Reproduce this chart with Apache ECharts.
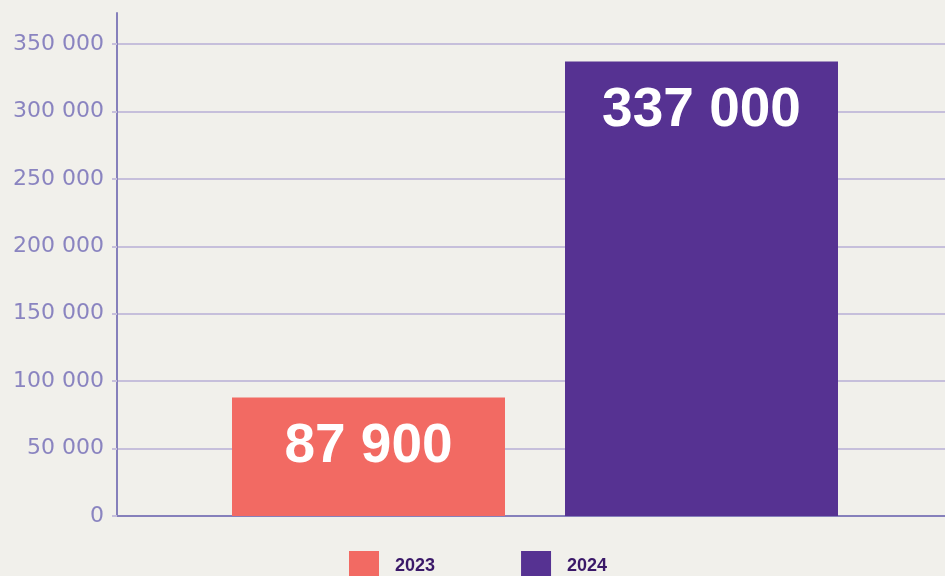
<!DOCTYPE html>
<html>
<head>
<meta charset="utf-8">
<script src="https://cdn.jsdelivr.net/npm/echarts@6/dist/echarts.min.js"></script>
<style>
  html, body { margin: 0; padding: 0; background: #f1f0eb; }
  #chart { width: 945px; height: 576px; }
</style>
</head>
<body>
<div id="chart"></div>
<script>
// Annual totals
const years = ['2023', '2024'];
const values2023 = [87900, '-'];
const values2024 = ['-', 337000];
const yMin = 0;
const yMax = 350000;
const yStep = 50000;

const COLORS = {
  bg: '#f1f0eb',
  coral: '#f26a63',
  purple: '#563292',
  axis: '#8680bb',
  grid: '#c6bfdb',
  label: '#8a84c0',
  legendText: '#3a1868'
};

const BOLD_FONT = '"Liberation Sans", Arial, sans-serif';

// "337000" -> "337 000"
function spaced(v) {
  return String(Math.round(v)).replace(/\B(?=(\d{3})+(?!\d))/g, ' ');
}

const chart = echarts.init(document.getElementById('chart'), null, { renderer: 'canvas' });

const barLabel = {
  show: true,
  position: 'insideTop',
  distance: 22,
  color: '#ffffff',
  fontFamily: BOLD_FONT,
  fontWeight: 'bold',
  fontSize: 55,
  formatter: p => spaced(p.value)
};

chart.setOption({
  backgroundColor: COLORS.bg,
  animation: false,
  legend: {
    data: years,
    left: 349,
    top: 551,
    padding: 0,
    icon: 'rect',
    itemWidth: 30,
    itemHeight: 30,
    itemGap: 86,
    textStyle: {
      color: COLORS.legendText,
      fontFamily: BOLD_FONT,
      fontWeight: 'bold',
      fontSize: 18,
      padding: [0, 0, 0, 11]
    }
  },
  grid: [
    // frame: left axis line running above the top tick, bottom baseline
    { left: 117, right: 0, top: 13, bottom: 60 },
    // value scale with gridlines and labels
    { left: 117, right: 0, top: 44, bottom: 60 },
    // bars
    { left: 202, right: 77, top: 44, bottom: 60 }
  ],
  xAxis: [
    {
      gridIndex: 0, type: 'category', data: years,
      axisLine: { show: true, lineStyle: { color: COLORS.axis, width: 2 } },
      axisTick: { show: false }, axisLabel: { show: false }, splitLine: { show: false }
    },
    {
      gridIndex: 1, type: 'category', data: years, show: false
    },
    {
      gridIndex: 2, type: 'category', data: years, show: false
    }
  ],
  yAxis: [
    {
      gridIndex: 0, type: 'value', min: 0, max: 1,
      axisLine: { show: true, lineStyle: { color: COLORS.axis, width: 2 } },
      axisTick: { show: false }, axisLabel: { show: false }, splitLine: { show: false }
    },
    {
      gridIndex: 1, type: 'value', min: yMin, max: yMax, interval: yStep,
      axisLine: { show: false },
      axisTick: { show: true, length: 5, lineStyle: { color: COLORS.grid, width: 2 } },
      splitLine: { show: true, lineStyle: { color: COLORS.grid, width: 2 } },
      axisLabel: {
        color: COLORS.label,
        fontFamily: 'DejaVu Sans',
        fontSize: 22,
        margin: 13,
        formatter: v => spaced(v)
      }
    },
    {
      gridIndex: 2, type: 'value', min: yMin, max: yMax, interval: yStep, show: false,
      splitLine: { show: false }
    }
  ],
  series: [
    {
      name: '2023', type: 'bar', xAxisIndex: 2, yAxisIndex: 2, stack: 'year',
      barWidth: 273, data: values2023,
      itemStyle: { color: COLORS.coral },
      label: barLabel
    },
    {
      name: '2024', type: 'bar', xAxisIndex: 2, yAxisIndex: 2, stack: 'year',
      barWidth: 273, data: values2024,
      itemStyle: { color: COLORS.purple },
      label: barLabel
    }
  ]
});
</script>
</body>
</html>
